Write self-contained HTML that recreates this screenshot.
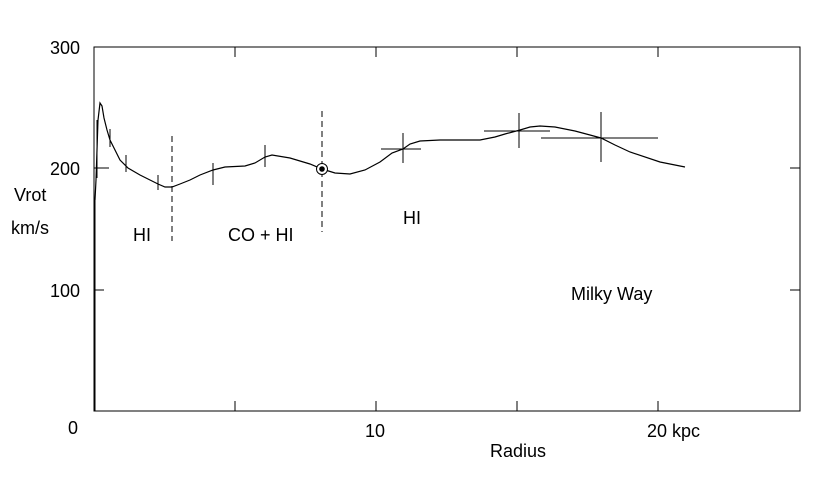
<!DOCTYPE html>
<html><head><style>
html,body{margin:0;padding:0;background:#fff;}
svg{display:block;}
text{font-family:"Liberation Sans",Arial,sans-serif;font-size:18px;fill:#000;}
</style></head><body>
<svg width="840" height="480" viewBox="0 0 840 480">
<g shape-rendering="crispEdges">
<rect x="94" y="47" width="706" height="364" fill="none" stroke="#000" stroke-width="1"/>
<g stroke="#000" stroke-width="1">
<line x1="235" y1="47" x2="235" y2="57"/><line x1="376" y1="47" x2="376" y2="57"/><line x1="517" y1="47" x2="517" y2="57"/><line x1="658" y1="47" x2="658" y2="57"/>
<line x1="235" y1="411" x2="235" y2="401"/><line x1="376" y1="411" x2="376" y2="401"/><line x1="517" y1="411" x2="517" y2="401"/><line x1="658" y1="411" x2="658" y2="401"/>
<line x1="94" y1="168" x2="104" y2="168"/><line x1="94" y1="290" x2="104" y2="290"/>
<line x1="800" y1="168" x2="790" y2="168"/><line x1="800" y1="290" x2="790" y2="290"/>
</g>
<line x1="94.5" y1="411" x2="94.5" y2="200" stroke="#000" stroke-width="2"/>
<g stroke="#000" stroke-width="1">
<line x1="96" y1="168" x2="109" y2="168"/><line x1="97" y1="120" x2="97" y2="178"/>
<line x1="110" y1="129" x2="110" y2="147"/>
<line x1="126" y1="155" x2="126" y2="172"/>
<line x1="158" y1="175" x2="158" y2="190"/>
<line x1="213" y1="163" x2="213" y2="185"/>
<line x1="265" y1="145" x2="265" y2="167"/>
<line x1="403" y1="133" x2="403" y2="163"/><line x1="381" y1="149" x2="421" y2="149"/>
<line x1="519" y1="113" x2="519" y2="148"/><line x1="484" y1="131" x2="550" y2="131"/>
<line x1="601" y1="112" x2="601" y2="162"/><line x1="541" y1="138" x2="658" y2="138"/>
</g>
<g stroke="#000" stroke-width="1" stroke-dasharray="6,4">
<line x1="172" y1="136" x2="172" y2="241"/>
<line x1="322" y1="111" x2="322" y2="232"/>
</g>
</g>
<polyline fill="none" stroke="#000" stroke-width="1.2" points="95,200 96,180 97,150 98,120 100,103 102,106 104,118 107,130 110,140 115,150 120,160 128,168 140,175 150,180 158,184 165,187 172,187 180,184 190,180 200,175 213,170 225,167 245,166 255,163 265,157 272,155 290,158 310,164 322,169 335,173 350,174 365,170 380,162 392,153 403,149 410,144 420,141 440,140 460,140 480,140 495,137 505,134 520,130 530,127 540,126 555,127 575,131 590,135 601,138 615,145 630,152 660,162 685,167"/>
<circle cx="322" cy="169" r="5.5" fill="#fff" stroke="#000"/>
<circle cx="322" cy="169" r="2.8" fill="#000"/>
<text x="50" y="54">300</text>
<text x="50" y="175">200</text>
<text x="50" y="297">100</text>
<text x="68" y="434">0</text>
<text x="14" y="201">Vrot</text>
<text x="11" y="234">km/s</text>
<text x="133" y="241">HI</text>
<text x="228" y="241">CO + HI</text>
<text x="403" y="224">HI</text>
<text x="571" y="300">Milky Way</text>
<text x="365" y="437">10</text>
<text x="647" y="437">20 kpc</text>
<text x="490" y="457">Radius</text>
</svg>
</body></html>
